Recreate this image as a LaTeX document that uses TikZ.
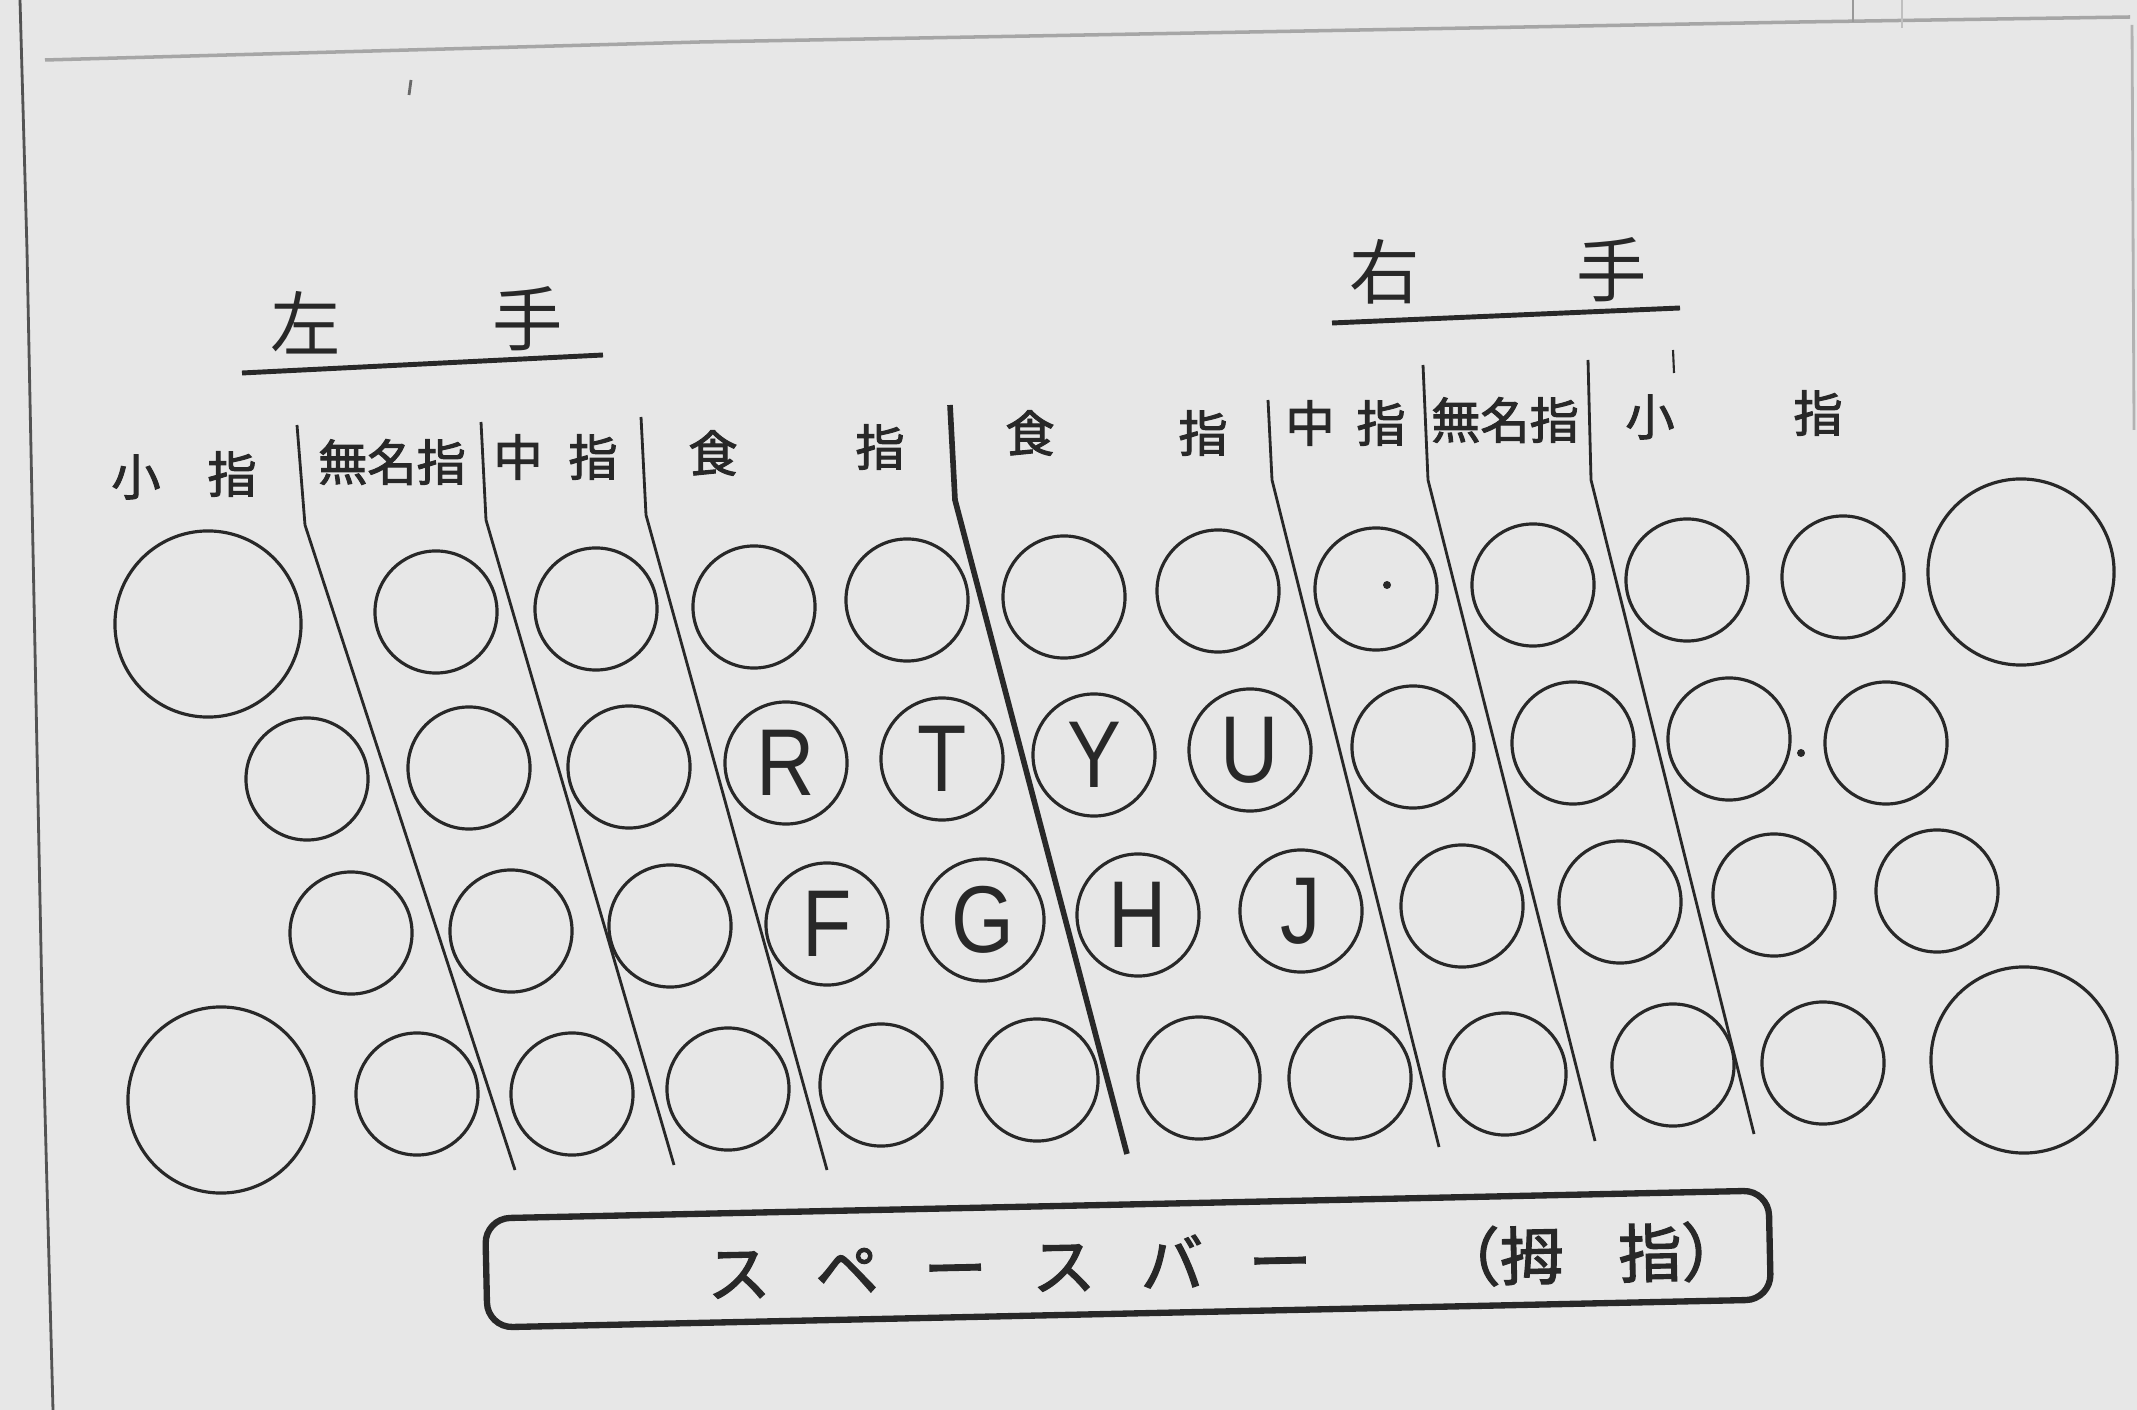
\documentclass[tikz,border=0pt]{standalone}
\usepackage{fontspec}
\newfontfamily\jp{Noto Sans CJK JP}
\newfontfamily\jpgras[FakeBold=2]{Noto Sans CJK JP}
\newfontfamily\lettre[FakeStretch=0.85]{Liberation Sans}
\definecolor{papier}{RGB}{231,231,231}
\definecolor{encre}{RGB}{40,40,40}
\newcommand{\cadrePage}{%
  \draw[encre!80,line width=0.8pt] (20,0) -- (27,250) -- (42,1000) -- (53,1410);
  \draw[black!35,line width=1pt] (45,60) -- (700,42) -- (1800,22) -- (2130,17);
  \draw[black!30,line width=0.8pt] (2132,25) -- (2134,430);
  \draw[black!40,line width=0.6pt] (1853,0) -- (1853,22); \draw[black!25,line width=0.6pt] (1902,0) -- (1902,28);}

\begin{document}
\begin{tikzpicture}[x=0.01cm,y=-0.01cm,
    touche/.style={draw=encre,circle,line width=0.9pt,minimum size=1.22cm,inner sep=0pt,text=encre,font=\lettre\fontsize{27}{27}\selectfont},
    grande/.style={touche,minimum size=1.86cm},
    doigt/.style={inner sep=0pt,text=encre,font=\jpgras\fontsize{14}{14}\selectfont},
    titre/.style={inner sep=0pt,text=encre,font=\jp\fontsize{20}{20}\selectfont},
    limite/.style={draw=encre,line width=0.8pt}]
  \useasboundingbox (0,0) rectangle (2137,1410);
  \fill[papier] (0,0) rectangle (2137,1410);
  \cadrePage
  \node[titre] (gauche1) at (306,323) {左}; \node[titre] (gauche2) at (528,319) {手};
  \draw[encre,line width=1.4pt] (242,373) -- (603,355);
  \node[titre] (droite1) at (1385,272) {右}; \node[titre] (droite2) at (1612,270) {手};
  \draw[encre,line width=1.4pt] (1332,323) -- (1680,308);
  \draw[encre,line width=0.6pt] (1673,350) -- (1674,373); \draw[encre!70,line width=0.8pt] (411,80) -- (409,95);
  \node[doigt] (gp1) at (136,477) {小}; \node[doigt] (gp2) at (232,474) {指};
  \node[doigt] (ga) at (392,462) {無名指};
  \node[doigt] (gm1) at (518,457) {中}; \node[doigt] (gm2) at (593,457) {指};
  \node[doigt] (gi1) at (713,453) {食}; \node[doigt] (gi2) at (880,447) {指};
  \node[doigt] (di1) at (1030,433) {食}; \node[doigt] (di2) at (1203,433) {指};
  \node[doigt] (dm1) at (1310,423) {中}; \node[doigt] (dm2) at (1381,423) {指};
  \node[doigt] (da) at (1505,420) {無名指};
  \node[doigt] (dp1) at (1650,417) {小}; \node[doigt] (dp2) at (1818,413) {指};
  \draw[limite] (297,425) -- (305,525) -- (515,1170);
  \draw[limite] (481,422) -- (486,520) -- (674,1165);
  \draw[limite] (641,417) -- (646,515) -- (827,1170);
  \draw[limite,line width=1.6pt] (950,405) -- (955,500) -- (1127,1154);
  \draw[limite] (1268,400) -- (1272,480) -- (1439,1147);
  \draw[limite] (1423,365) -- (1428,480) -- (1595,1141);
  \draw[limite] (1588,360) -- (1591,480) -- (1754,1134);
  \node[grande] (a0) at (208,624) {};
  \foreach \x/\y [count=\i] in {436/612,596/609,754/607,907/600,1064/597,1218/591,1376/589,1533/585,1687/580,1843/577}
    \node[touche] (a\i) at (\x,\y) {};
  \node[grande] (a11) at (2021,572) {};
  \foreach \x/\y/\t [count=\i] in {307/779/,469/768/,629/767/,786/763/R,942/759/T,1094/755/Y,1250/750/U,1413/747/,1573/743/,1729/739/,1886/743/}
    \node[touche] (b\i) at (\x,\y) {\t};
  \foreach \x/\y/\t [count=\i] in {351/933/,511/931/,670/926/,827/924/F,983/920/G,1138/915/H,1301/911/J,1462/906/,1620/902/,1774/895/,1937/891/}
    \node[touche] (c\i) at (\x,\y) {\t};
  \node[grande] (d0) at (221,1100) {};
  \foreach \x/\y [count=\i] in {417/1094,572/1094,728/1089,881/1085,1037/1080,1199/1078,1350/1078,1505/1074,1673/1065,1823/1063}
    \node[touche] (d\i) at (\x,\y) {};
  \node[grande] (d11) at (2024,1060) {};
  \fill[encre] (1387,585) circle (4); \fill[encre] (1801,753) circle (4);
  \node[draw=encre,line width=1.8pt,rounded corners=0.25cm,minimum width=12.83cm,minimum height=1.09cm,rotate=1.25] (barre) at (1128,1259) {};
  \node[inner sep=0pt,text=encre,font=\jpgras\fontsize{18}{18}\selectfont,rotate=1.25] (barretexte) at (1226,1262)
    {ス\hspace{0.45cm}ペ\hspace{0.45cm}ー\hspace{0.45cm}ス\hspace{0.45cm}バ\hspace{0.45cm}ー\hspace{1.25cm}（拇\hspace{0.55cm}指）};
\end{tikzpicture}
\end{document}
